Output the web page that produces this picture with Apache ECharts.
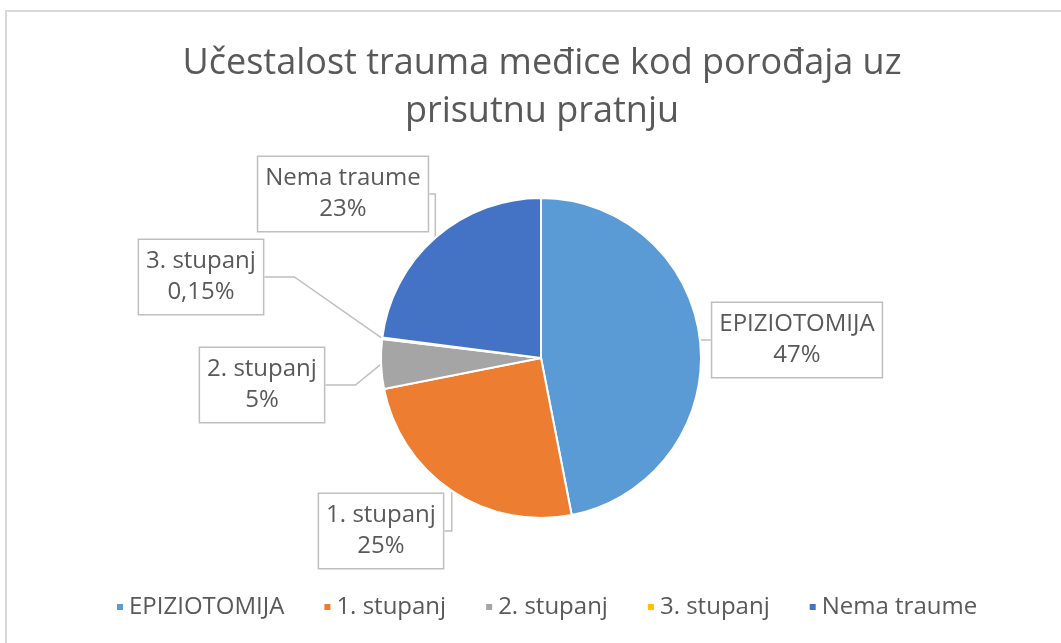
<!DOCTYPE html>
<html>
<head>
<meta charset="utf-8">
<script src="https://cdn.jsdelivr.net/npm/echarts@6/dist/echarts.min.js"></script>
<style>
  html, body { margin: 0; padding: 0; background: #fff; }
  #chart { width: 1061px; height: 643px; }
  .frame {
    position: absolute; left: 5px; top: 10px; width: 1100px; height: 700px;
    border: 2px solid #d9d9d9; pointer-events: none;
  }
</style>
</head>
<body>
<div id="chart"></div>
<div class="frame"></div>
<script>
const categories = ['EPIZIOTOMIJA', '1. stupanj', '2. stupanj', '3. stupanj', 'Nema traume']
const values = [47, 25, 5, 0.15, 23]
const colors = ['#5B9BD5', '#ED7D31', '#A5A5A5', '#FFC000', '#4472C4']

// where each callout box sits (center)
const labelSpots = [[797, 340], [381, 531], [262, 385], [201, 277], [343, 194]]

const chart = echarts.init(document.getElementById('chart'))

const fmtPct = (p) => {
  if (p < 1) return p.toFixed(2).replace('.', ',') + '%'
  return Math.round(p) + '%'
}

const option = {
  animation: false,
  color: colors,
  title: {
    text: 'Učestalost trauma međice kod porođaja uz\nprisutnu pratnju',
    left: 537,
    textAlign: 'center',
    top: 35,
    textStyle: {
      fontFamily: 'Open Sans',
      fontSize: 36,
      fontWeight: 'normal',
      color: '#595959',
      lineHeight: 48
    }
  },
  legend: {
    bottom: 19,
    left: 110,
    icon: 'rect',
    itemWidth: 8,
    itemHeight: 8,
    itemGap: 38,
    textStyle: { fontFamily: 'Open Sans', fontSize: 24, color: '#595959' },
    data: categories
  },
  series: [{
    type: 'pie',
    center: [541, 358],
    radius: 160,
    startAngle: 90,
    clockwise: true,
    itemStyle: { borderColor: '#fff', borderWidth: 2 },
    label: {
      show: true,
      position: 'outside',
      formatter: (p) => p.name + '\n' + fmtPct(p.percent * 1),
      fontFamily: 'Open Sans',
      fontSize: 24,
      lineHeight: 31,
      color: '#595959',
      backgroundColor: '#fff',
      borderColor: '#bfbfbf',
      borderWidth: 1.5,
      padding: [6, 7],
      align: 'center'
    },
    labelLine: {
      show: true,
      lineStyle: { color: '#bfbfbf', width: 1.5 }
    },
    labelLayout: (params) => {
      const s = labelSpots[params.dataIndex]
      return { x: s[0], y: s[1], align: 'center', verticalAlign: 'middle' }
    },
    emphasis: { disabled: true },
    data: categories.map((name, i) => ({ name, value: values[i] }))
  }]
}

chart.setOption(option)
</script>
</body>
</html>
